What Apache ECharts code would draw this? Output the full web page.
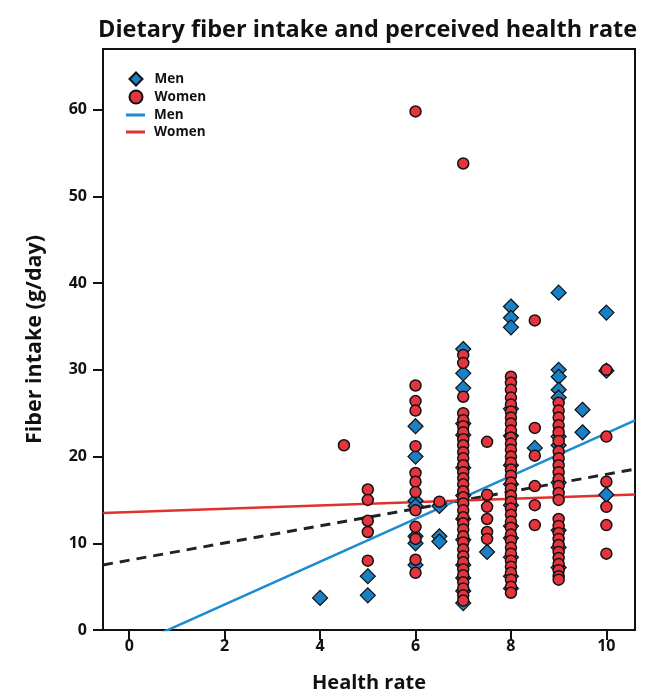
<!DOCTYPE html>
<html>
<head>
<meta charset="utf-8">
<script src="https://cdn.jsdelivr.net/npm/echarts@6/dist/echarts.min.js"></script>
<style>
  html, body { margin: 0; padding: 0; background: #fff; }
  #chart { width: 652px; height: 693px; }
</style>
</head>
<body>
<div id="chart"></div>
<script>
// ---- Data ----
const titleText = 'Dietary fiber intake and perceived health rate';
const xTicks = [0, 2, 4, 6, 8, 10];
const yTicks = [0, 10, 20, 30, 40, 50, 60];
const xRange = [-0.55, 10.6];
const yRange = [0, 67];

// Men: [health rate, fiber intake]
const menData = [
  [4, 3.7],
  [5, 6.2], [5, 4.0],
  [6, 23.5], [6, 20.0], [6, 14.9], [6, 14.3], [6, 10.8], [6, 10.0], [6, 7.5],
  [6.5, 14.3], [6.5, 10.8], [6.5, 10.2],
  [7, 32.4], [7, 29.6], [7, 27.9], [7, 23.8], [7, 22.5], [7, 18.7], [7, 15.5],
  [7, 12.8], [7, 10.4], [7, 7.5], [7, 6.0], [7, 4.5], [7, 3.1],
  [7.5, 9.0],
  [8, 37.3], [8, 36.0], [8, 34.9], [8, 25.5], [8, 22.4], [8, 19.0], [8, 16.8],
  [8, 14.4], [8, 12.0], [8, 10.6], [8, 8.4], [8, 6.2], [8, 4.8],
  [8.5, 21.0],
  [9, 38.9], [9, 30.0], [9, 29.2], [9, 27.7], [9, 26.8], [9, 22.3], [9, 21.3],
  [9, 17.0], [9, 11.5], [9, 9.5], [9, 7.2],
  [9.5, 25.4], [9.5, 22.8],
  [10, 36.6], [10, 29.9], [10, 15.6]
];

// Women: [health rate, fiber intake]
const womenData = [
  [4.5, 21.3],
  [5, 16.2], [5, 15.0], [5, 12.6], [5, 11.3], [5, 8.0],
  [6, 59.8], [6, 28.2], [6, 26.4], [6, 25.3], [6, 21.2], [6, 18.1], [6, 17.1],
  [6, 15.9], [6, 13.8], [6, 11.9], [6, 10.5], [6, 8.1], [6, 6.6],
  [6.5, 14.8],
  [7, 53.8], [7, 31.7], [7, 30.8], [7, 26.9], [7, 25.0], [7, 24.2], [7, 23.5],
  [7, 22.8], [7, 22.0], [7, 21.3], [7, 20.5], [7, 19.8], [7, 19.0], [7, 18.2],
  [7, 17.5], [7, 16.8], [7, 16.0], [7, 15.3], [7, 14.6], [7, 13.8], [7, 13.0],
  [7, 12.3], [7, 11.6], [7, 10.8], [7, 10.1], [7, 9.3], [7, 8.5], [7, 7.8],
  [7, 7.0], [7, 6.3], [7, 5.5], [7, 4.8], [7, 4.0], [7, 3.4],
  [7.5, 21.7], [7.5, 15.6], [7.5, 14.2], [7.5, 12.8], [7.5, 11.3], [7.5, 10.5],
  [8, 29.2], [8, 28.5], [8, 27.7], [8, 26.8], [8, 26.0], [8, 25.2], [8, 24.5],
  [8, 23.8], [8, 23.0], [8, 22.2], [8, 21.5], [8, 20.8], [8, 20.0], [8, 19.3],
  [8, 18.5], [8, 17.8], [8, 17.0], [8, 16.3], [8, 15.5], [8, 14.8], [8, 14.0],
  [8, 13.3], [8, 12.5], [8, 11.8], [8, 11.0], [8, 10.3], [8, 9.5], [8, 8.8],
  [8, 8.0], [8, 7.3], [8, 6.6], [8, 5.8], [8, 5.0], [8, 4.3],
  [8.5, 35.7], [8.5, 23.3], [8.5, 20.1], [8.5, 16.6], [8.5, 14.4], [8.5, 12.1],
  [9, 26.2], [9, 25.3], [9, 24.5], [9, 23.6], [9, 22.8], [9, 21.8], [9, 20.6],
  [9, 19.8], [9, 19.0], [9, 18.2], [9, 17.4], [9, 16.6], [9, 15.8], [9, 15.0],
  [9, 12.8], [9, 12.0], [9, 11.2], [9, 10.5], [9, 9.8], [9, 9.0], [9, 8.3],
  [9, 7.6], [9, 6.9], [9, 6.2], [9, 5.8],
  [10, 30.0], [10, 22.3], [10, 17.1], [10, 14.2], [10, 12.1], [10, 8.8]
];

// Fitted regression lines: [intercept, slope]
const fitMen = [-2.0, 2.47];
const fitWomen = [13.6, 0.19];
const fitAll = [8.05, 0.99];

const legendLabels = { 'Men': 'Men', 'Women': 'Women', 'Men fit': 'Men', 'Women fit': 'Women' };

// ---- Chart ----
const FONT = '"Open Sans", "Noto Sans", sans-serif';
const BLUE = '#1a7fc3';
const RED = '#e5343d';
const LINE_BLUE = '#1b8bd2';
const LINE_RED = '#e0312f';

function fitLine(p) {
  return xRange.map(x => [x, p[0] + p[1] * x]);
}

const chart = echarts.init(document.getElementById('chart'), null, { renderer: 'canvas' });

const legendText = { fontFamily: FONT, fontWeight: 'bold', fontSize: 13.5, color: '#111' };

const option = {
  backgroundColor: '#fff',
  animation: false,
  title: {
    text: titleText,
    left: 98,
    top: 18,
    padding: 0,
    textStyle: { fontFamily: FONT, fontWeight: 'bold', fontSize: 23.5, color: '#111' }
  },
  grid: {
    left: 103, right: 17, top: 49, bottom: 63,
    containLabel: false,
    outerBoundsMode: 'none',
    show: true,
    borderColor: '#111',
    borderWidth: 2,
    backgroundColor: 'transparent'
  },
  legend: [
    {
      orient: 'vertical',
      left: 128.5,
      top: 70,
      itemWidth: 13,
      itemHeight: 13,
      itemGap: 0,
      padding: 0,
      data: [
        { name: 'Men', icon: 'diamond' },
        { name: 'Women', icon: 'circle' }
      ],
      formatter: n => legendLabels[n],
      textStyle: Object.assign({ lineHeight: 18, padding: [0, 0, 0, 7] }, legendText),
      selectedMode: false
    },
    {
      orient: 'vertical',
      left: 126,
      top: 106.5,
      itemWidth: 19,
      itemHeight: 3,
      itemGap: 0,
      padding: 0,
      data: [
        { name: 'Men fit', icon: 'rect' },
        { name: 'Women fit', icon: 'rect' }
      ],
      formatter: n => legendLabels[n],
      textStyle: Object.assign({ lineHeight: 17, padding: [0, 0, 0, 4] }, legendText),
      selectedMode: false
    }
  ],
  xAxis: {
    type: 'value',
    min: xRange[0],
    max: xRange[1],
    name: 'Health rate',
    nameLocation: 'middle',
    nameGap: 43,
    nameTextStyle: { fontFamily: FONT, fontWeight: 'bold', fontSize: 20, color: '#111' },
    axisLine: { show: true, onZero: false, lineStyle: { color: '#111', width: 2 } },
    axisTick: { show: true, inside: false, length: 10, customValues: xTicks, lineStyle: { color: '#111', width: 2 } },
    axisLabel: { customValues: xTicks, margin: 8, fontFamily: FONT, fontWeight: 'bold', fontSize: 16, color: '#111' },
    splitLine: { show: false }
  },
  yAxis: {
    type: 'value',
    min: yRange[0],
    max: yRange[1],
    name: 'Fiber intake (g/day)',
    nameLocation: 'middle',
    nameGap: 57,
    nameTextStyle: { fontFamily: FONT, fontWeight: 'bold', fontSize: 21.5, color: '#111' },
    axisLine: { show: true, onZero: false, lineStyle: { color: '#111', width: 2 } },
    axisTick: { show: true, inside: false, length: 10, customValues: yTicks, lineStyle: { color: '#111', width: 2 } },
    axisLabel: { customValues: yTicks, margin: 16, fontFamily: FONT, fontWeight: 'bold', fontSize: 16, color: '#111' },
    splitLine: { show: false }
  },
  series: [
    {
      name: 'All fit', type: 'line', data: fitLine(fitAll), symbol: 'none', z: 2,
      lineStyle: { color: '#222', width: 3, type: [10, 7] }, silent: true
    },
    {
      name: 'Men fit', type: 'line', data: fitLine(fitMen), symbol: 'none', z: 2,
      itemStyle: { color: LINE_BLUE },
      lineStyle: { color: LINE_BLUE, width: 2.5 }, silent: true
    },
    {
      name: 'Women fit', type: 'line', data: fitLine(fitWomen), symbol: 'none', z: 2,
      itemStyle: { color: LINE_RED },
      lineStyle: { color: LINE_RED, width: 2.5 }, silent: true
    },
    {
      name: 'Men', type: 'scatter', data: menData, symbol: 'diamond', symbolSize: [15, 15], z: 3,
      itemStyle: { color: BLUE, borderColor: '#111', borderWidth: 1.2, opacity: 1 }
    },
    {
      name: 'Women', type: 'scatter', data: womenData, symbol: 'circle', symbolSize: 11, z: 4,
      itemStyle: { color: RED, borderColor: '#111', borderWidth: 1.5, opacity: 1 }
    }
  ]
};

chart.setOption(option);
</script>
</body>
</html>
